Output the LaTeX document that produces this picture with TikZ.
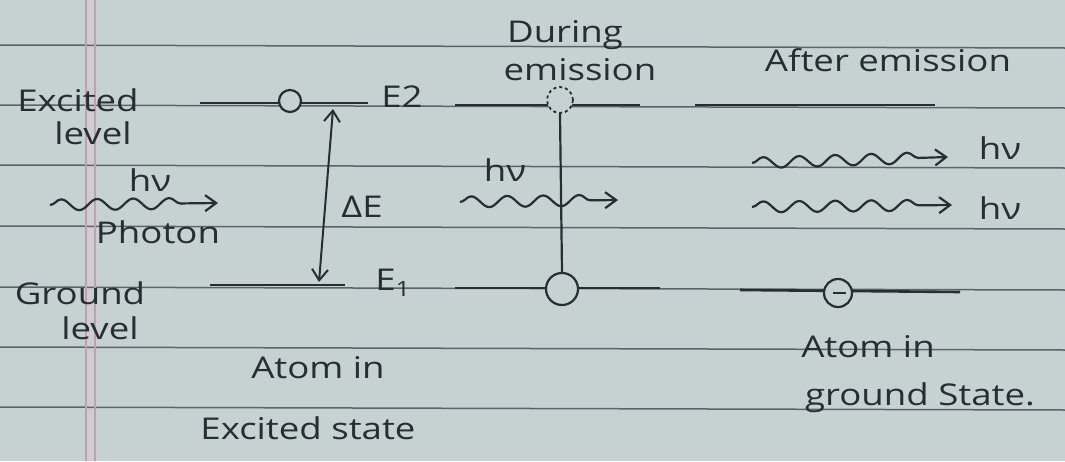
\documentclass[tikz,border=0pt]{standalone}
\usepackage{fontspec}
\setmainfont{Open Sans}[FakeStretch=1.22]
\usetikzlibrary{decorations.pathmorphing,arrows.meta}
\definecolor{paper}{RGB}{198,210,210}
\definecolor{ink}{RGB}{40,45,50}
\definecolor{rulecol}{RGB}{90,100,105}
\definecolor{margincol}{RGB}{210,150,175}
\begin{document}
\begin{tikzpicture}[x=1pt,y=-1pt,
  >={Straight Barb[length=11pt,width=16pt]},
  lbl/.style={text=ink,font=\fontsize{30}{32}\selectfont,inner sep=0pt,anchor=center},
  level/.style={draw=ink,line width=2.6pt},
  ruled/.style={draw=rulecol,line width=1.5pt},
  wave/.style={draw=ink,line width=2.2pt,decorate,
    decoration={snake,amplitude=5.5pt,segment length=36pt,post length=20pt},->},
  atom/.style={circle,draw=ink,line width=2.2pt,inner sep=0pt}]
\fill[paper] (0,0) rectangle (1065,461);
\useasboundingbox (0,0) rectangle (1065,461);
% notebook ruling
\foreach \y in {45,105,165,226,287,347,407}
  \draw[ruled] (0,\y) -- (1065,\y+3);
\draw[margincol,line width=2.5pt] (86,0) -- (86,461);
\draw[margincol,line width=2.5pt] (95,0) -- (95,461);

% ---------- left: atom in excited state ----------
\node[lbl] (exc) at (78,100) {Excited};
\node[lbl] (exclev) at (93,133) {level};
\node[lbl] (gro) at (80,293) {Ground};
\node[lbl] (grolev) at (100,328) {level};
\node[lbl] (hv1) at (150,180) {hν};
\coordinate (ph1s) at (50,205);
\coordinate (ph1e) at (218,203);
\draw[wave] (ph1s) -- (ph1e);
\node[lbl] (photon) at (158,232) {Photon};

\coordinate (e2a) at (200,103);
\coordinate (e2b) at (368,103);
\draw[level] (e2a) -- (e2b);
\node[lbl] (E2) at (402,97) {E2};
\node[atom,minimum size=22pt,fill=paper] (el1) at (290,101) {};
\coordinate (e1a) at (210,285);
\coordinate (e1b) at (345,285);
\draw[level] (e1a) -- (e1b);
\node[lbl] (E1) at (393,283) {E\textsubscript{1}};
\coordinate (dtop) at (333,109);
\coordinate (dbot) at (319,282);
\draw[ink,line width=2pt,<->] (dtop) -- (dbot);
\node[lbl] (dE) at (362,207) {ΔE};
\node[lbl] (atom1) at (318,368) {Atom in};
\node[lbl] (atom1b) at (308,428) {Excited state};

% ---------- middle: during emission ----------
\node[lbl] (during) at (565,35) {During};
\node[lbl] (emis) at (580,70) {emission};
\coordinate (m2a) at (455,105);
\coordinate (m2b) at (640,105);
\draw[level] (m2a) -- (m2b);
\node[circle,draw=ink,line width=1.8pt,dashed,fill=paper,inner sep=0pt,minimum size=26pt] (mex) at (560,100) {};
\coordinate (m1a) at (455,288);
\coordinate (m1b) at (660,288);
\draw[level] (m1a) -- (m1b);
\node[atom,minimum size=32pt,fill=paper] (mgr) at (562,289) {};
\draw[ink,line width=2.2pt] (mex.south) -- (mgr.north);
\node[lbl] (hv2) at (505,170) {hν};
\coordinate (ph2s) at (460,202);
\coordinate (ph2e) at (618,200);
\draw[wave] (ph2s) -- (ph2e);

% ---------- right: after emission ----------
\node[lbl] (after) at (888,60) {After emission};
\coordinate (r2a) at (695,105);
\coordinate (r2b) at (935,105);
\draw[level] (r2a) -- (r2b);
\coordinate (ph3s) at (752,163);
\coordinate (ph3e) at (948,157);
\draw[wave] (ph3s) -- (ph3e);
\node[lbl] (hv3) at (1000,148) {hν};
\coordinate (ph4s) at (752,207);
\coordinate (ph4e) at (952,205);
\draw[wave] (ph4s) -- (ph4e);
\node[lbl] (hv4) at (1000,208) {hν};
\coordinate (r1a) at (740,290);
\coordinate (r1b) at (960,292);
\draw[level] (r1a) -- (r1b);
\node[atom,minimum size=28pt,fill=paper] (rgr) at (838,293) {};
\draw[ink,line width=2pt] ([xshift=-5pt]rgr.center) -- ([xshift=8pt]rgr.center);
\node[lbl] (atom3) at (868,347) {Atom in};
\node[lbl] (atom3b) at (920,398) {ground State.};
\end{tikzpicture}
\end{document}
